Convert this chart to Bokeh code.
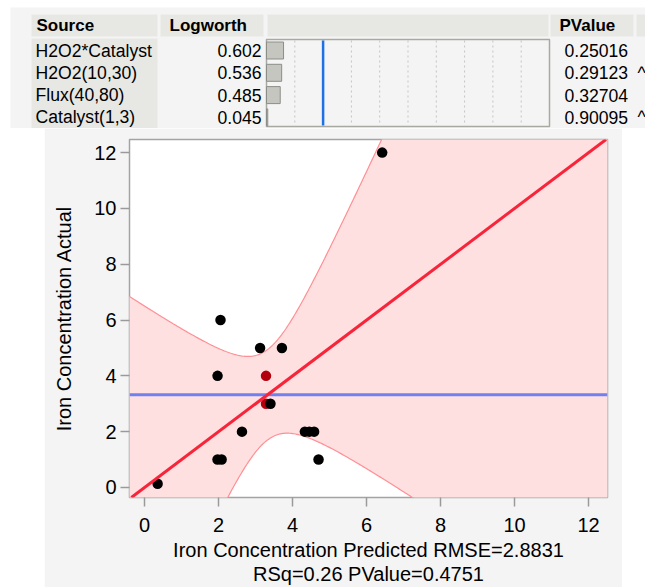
import numpy as np
from bokeh.plotting import figure
from bokeh.models import Range1d, Span, Slope, FixedTicker, Spacer
from bokeh.layouts import column, row
from bokeh.embed import file_html
from bokeh.resources import INLINE
from bokeh.core.properties import value

# ---------------- data ----------------
sources = ["H2O2*Catalyst", "H2O2(10,30)", "Flux(40,80)", "Catalyst(1,3)"]
logworth = [0.602, 0.536, 0.485, 0.045]
pvalues = ["0.25016", "0.29123", "0.32704", "0.90095"]
carets = ["", "^", "", "^"]
logworth_ref = 2.0           # reference line (p = 0.01)
logworth_axis = list(range(1, 10))

pred_black = [2.05, 3.12, 3.71, 1.97, 3.40, 2.63, 1.97, 2.08, 0.35, 4.33, 4.45, 4.58, 4.70, 6.42]
actual_black = [6, 5, 5, 4, 3, 2, 1, 1, 0.13, 2, 2, 2, 1, 12]
pred_red = [3.28, 3.28]
actual_red = [4, 3]

fit_slope = 1.0
fit_intercept = 0.0
conf_scale = 1.895     # confidence-curve half-width factor
conf_offset = 0.73     # confidence-curve minimum term

x_ticks = [0, 2, 4, 6, 8, 10, 12]
y_ticks = [0, 2, 4, 6, 8, 10, 12]
x_label = "Iron Concentration Predicted RMSE=2.8831"
x_label2 = "RSq=0.26 PValue=0.4751"
y_label = "Iron Concentration Actual"

FONT = "Liberation Sans"
PANEL = "#f4f4f4"
CELL = "#e7e7e4"

# ---------------- table ----------------
tf = figure(width=645, height=128, x_range=Range1d(0, 645), y_range=Range1d(128, 0),
            toolbar_location=None, output_backend="svg", min_border=0,
            x_axis_location=None, y_axis_location=None, outline_line_color=None)
tf.grid.visible = False
tf.background_fill_color = "white"
tf.border_fill_color = "white"
tf.extra_x_ranges = {"lw": Range1d(-266 / 28.3, (645 - 266) / 28.3)}

tf.quad(left=10, right=645, top=7, bottom=128, fill_color=PANEL, line_color=None)
tf.quad(left=[31, 160, 267, 550, 636], right=[157, 263, 548, 633, 645], top=14, bottom=36,
        fill_color=CELL, line_color=None)
tf.quad(left=31, right=157, top=38, bottom=128, fill_color=CELL, line_color=None)

tf.quad(left=0, right=10, top=39, bottom=126, fill_color=PANEL, line_color="#a9a9a3",
        line_width=1.5, x_range_name="lw")
tf.segment(x0=logworth_axis, x1=logworth_axis, y0=40, y1=125, x_range_name="lw",
           line_color="#c4c4c4", line_dash="2 3", line_width=1)
tf.segment(x0=[logworth_ref], x1=[logworth_ref], y0=40, y1=125, x_range_name="lw",
           line_color="#1f6fe6", line_width=2.5)

row_y = [50 + 22.3 * i for i in range(len(sources))]
tf.hbar(y=row_y, height=17, left=0, right=logworth, x_range_name="lw",
        fill_color="#c6c6c0", line_color="#8e8e88", line_width=1)

hdr = dict(text_font=value(FONT), text_font_size="17px", text_font_style="bold",
           text_baseline="middle", text_color="black")
body = dict(text_font=value(FONT), text_font_size="17.6px", text_baseline="middle",
            text_color="black")
tf.text(x=[36, 169, 559], y=[25, 25, 25], text=["Source", "Logworth", "PValue"], **hdr)
tf.text(x=[35] * 4, y=row_y, text=sources, **body)
tf.text(x=[261] * 4, y=row_y, text=[f"{v:.3f}" for v in logworth], text_align="right", **body)
tf.text(x=[564] * 4, y=row_y, text=pvalues, **body)
tf.text(x=[637] * 4, y=row_y, text=carets, **body)

# ---------------- chart ----------------
p = figure(width=578, height=459, x_range=Range1d(-0.41, 12.51), y_range=Range1d(-0.36, 12.47),
           toolbar_location=None, output_backend="svg",
           min_border_left=85, min_border_right=15, min_border_top=11, min_border_bottom=90)
p.grid.visible = False
p.background_fill_color = "white"
p.border_fill_color = PANEL
p.outline_line_color = "#a3a3a3"
p.outline_line_width = 1.5

all_actual = np.array(actual_black + actual_red, dtype=float)
mean_actual = all_actual.mean()

xs = np.linspace(-1, 14, 400)
fit = fit_intercept + fit_slope * xs
half = conf_scale * np.sqrt(conf_offset + (xs - mean_actual) ** 2)
p.varea(x=xs, y1=fit - half, y2=fit + half, fill_color="#ffe0e1")
p.line(xs, fit + half, line_color="#ff8f94", line_width=1.2)
p.line(xs, fit - half, line_color="#ff8f94", line_width=1.2)

p.add_layout(Span(location=mean_actual, dimension="width", line_color="#7080ee", line_width=3))
p.add_layout(Slope(gradient=fit_slope, y_intercept=fit_intercept, line_color="#f8243a", line_width=3))

p.scatter(pred_red, actual_red, size=10.5, fill_color="#b3000f", line_color=None)
p.scatter(pred_black, actual_black, size=10.5, fill_color="black", line_color=None)

for ax in (p.xaxis, p.yaxis):
    ax.axis_line_color = None
    ax.major_tick_line_color = "#9a9a9a"
    ax.major_tick_line_width = 1.5
    ax.major_tick_out = 9
    ax.major_tick_in = 0
    ax.minor_tick_line_color = None
    ax.major_label_text_font = FONT
    ax.major_label_text_font_size = "20px"
    ax.major_label_text_color = "black"
    ax.axis_label_text_font = FONT
    ax.axis_label_text_font_size = "20px"
    ax.axis_label_text_font_style = "normal"
    ax.axis_label_text_color = "black"

p.xaxis.ticker = FixedTicker(ticks=x_ticks)
p.yaxis.ticker = FixedTicker(ticks=y_ticks)
p.xaxis.axis_label = x_label + "\n" + x_label2
p.xaxis.axis_label_text_line_height = 1.1
p.yaxis.axis_label = y_label
p.xaxis.major_label_standoff = 11
p.yaxis.major_label_standoff = 4
p.xaxis.axis_label_standoff = 4
p.yaxis.axis_label_standoff = 16

layout = column(tf, row(Spacer(width=44, height=459), p, spacing=0), spacing=0)
open("out.html", "w").write(file_html(layout, INLINE))
